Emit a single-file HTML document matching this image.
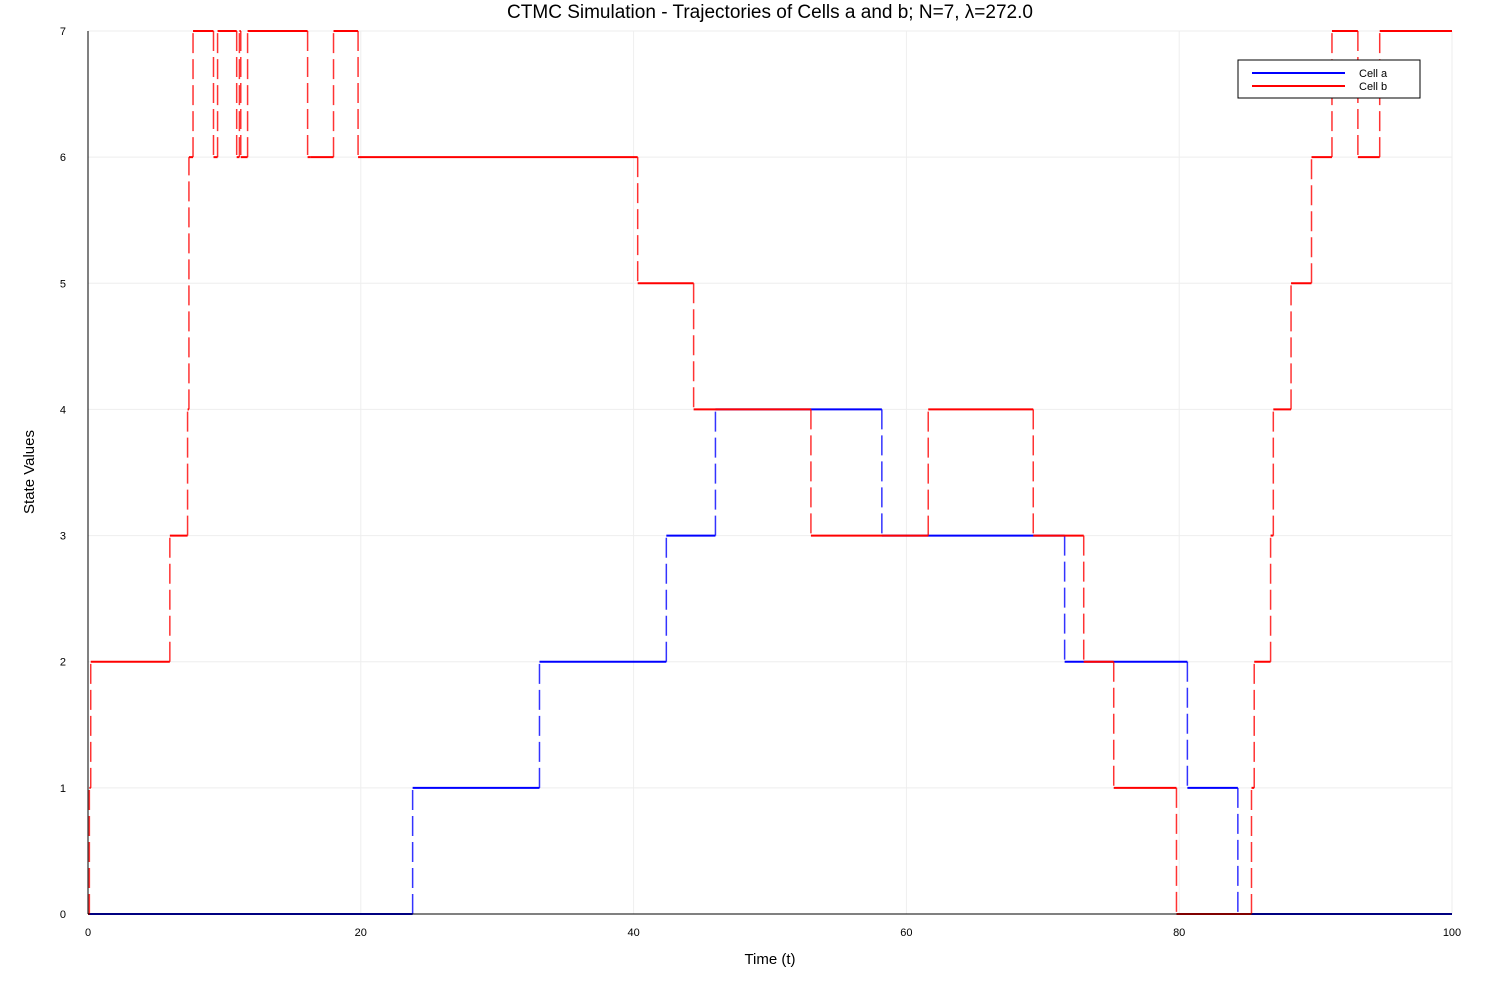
<!DOCTYPE html>
<html><head><meta charset="utf-8"><style>body{margin:0;background:#fff}svg text{font-family:"Liberation Sans","DejaVu Sans",sans-serif}</style></head>
<body>
<svg id="chart" width="1500" height="1000" xmlns="http://www.w3.org/2000/svg">
<text x="770" y="18" font-size="19" text-anchor="middle">CTMC Simulation - Trajectories of Cells a and b; N=7, λ=272.0</text>
<g id="grid"></g>
<g id="series"></g>
<g id="axes"></g>
<text x="770" y="964" font-size="15" text-anchor="middle">Time (t)</text>
<text x="34" y="472" font-size="15" text-anchor="middle" transform="rotate(-90 34 472)">State Values</text>
<g>
<rect x="1238" y="60" width="182" height="38" fill="#fff" stroke="#000" stroke-width="1"/>
<line x1="1252" y1="73" x2="1345" y2="73" stroke="#00f" stroke-width="2"/>
<text x="1359" y="77" font-size="11">Cell a</text>
<line x1="1252" y1="86" x2="1345" y2="86" stroke="#f00" stroke-width="2"/>
<text x="1359" y="90" font-size="11">Cell b</text>
</g>
</svg>
<script>
const xTicks=[0,20,40,60,80,100];
const yTicks=[0,1,2,3,4,5,6,7];
const aTimes=[0,23.8,33.1,42.4,46.0,58.2,71.6,80.6,84.3];
const aValues=[0,1,2,3,4,3,2,1,0];
const bTimes=[0,0.1,0.2,6.0,7.3,7.4,7.7,9.2,9.5,10.9,11.1,11.2,11.7,16.1,16.3,18.0,19.8,40.3,44.4,53.0,61.6,69.3,73.0,75.2,79.8,85.3,85.5,86.7,86.9,88.2,89.7,91.2,93.1,94.7];
const bValues=[0,1,2,3,4,6,7,6,7,6,7,6,7,6,6,7,6,5,4,3,4,3,2,1,0,1,2,3,4,5,6,7,6,7];
const X0=88,X1=1452,Y0=914,Y1=31,TMAX=100,VMAX=7;
const sx=t=>X0+(X1-X0)*t/TMAX, sy=v=>Y0-(Y0-Y1)*v/VMAX;
const NS='http://www.w3.org/2000/svg';
function mk(tag,at,parent){const e=document.createElementNS(NS,tag);for(const k in at)e.setAttribute(k,at[k]);parent.appendChild(e);return e;}
const grid=document.getElementById('grid'),axes=document.getElementById('axes'),ser=document.getElementById('series');
xTicks.forEach(t=>{const l=mk('line',{x1:sx(t),x2:sx(t),y1:Y1,y2:Y0,stroke:'#eee','stroke-width':1},grid);


const tx=mk('text',{x:sx(t),y:Y0+22,'font-size':11,'text-anchor':'middle'},axes);tx.textContent=t;

});
yTicks.forEach(v=>{const l=mk('line',{x1:X0,x2:X1,y1:sy(v),y2:sy(v),stroke:'#eee','stroke-width':1},grid);


const tx=mk('text',{x:X0-22,y:sy(v)+4,'font-size':11,'text-anchor':'end'},axes);tx.textContent=v;

});
mk('line',{x1:X0,x2:X1,y1:Y0,y2:Y0,stroke:'#000','stroke-width':1},axes);
mk('line',{x1:X0,x2:X0,y1:Y1,y2:Y0,stroke:'#000','stroke-width':1},axes);
function draw(times,vals,color,name){
 for(let i=0;i<times.length;i++){
  const t1=i+1<times.length?times[i+1]:TMAX;
  const h=mk('line',{x1:sx(times[i]),x2:sx(t1),y1:sy(vals[i]),y2:sy(vals[i]),stroke:color,'stroke-width':2},ser);
  
  
  if(i+1<times.length){
   const v=mk('line',{x1:sx(t1),x2:sx(t1),y1:sy(vals[i]),y2:sy(vals[i+1]),stroke:color,'stroke-width':1.5,'stroke-dasharray':'20,6','stroke-opacity':0.8},ser);
   
   
  }
 }
}
draw(aTimes,aValues,'#0000ff','cell-a');
draw(bTimes,bValues,'#ff0000','cell-b');
</script>
</body></html>
